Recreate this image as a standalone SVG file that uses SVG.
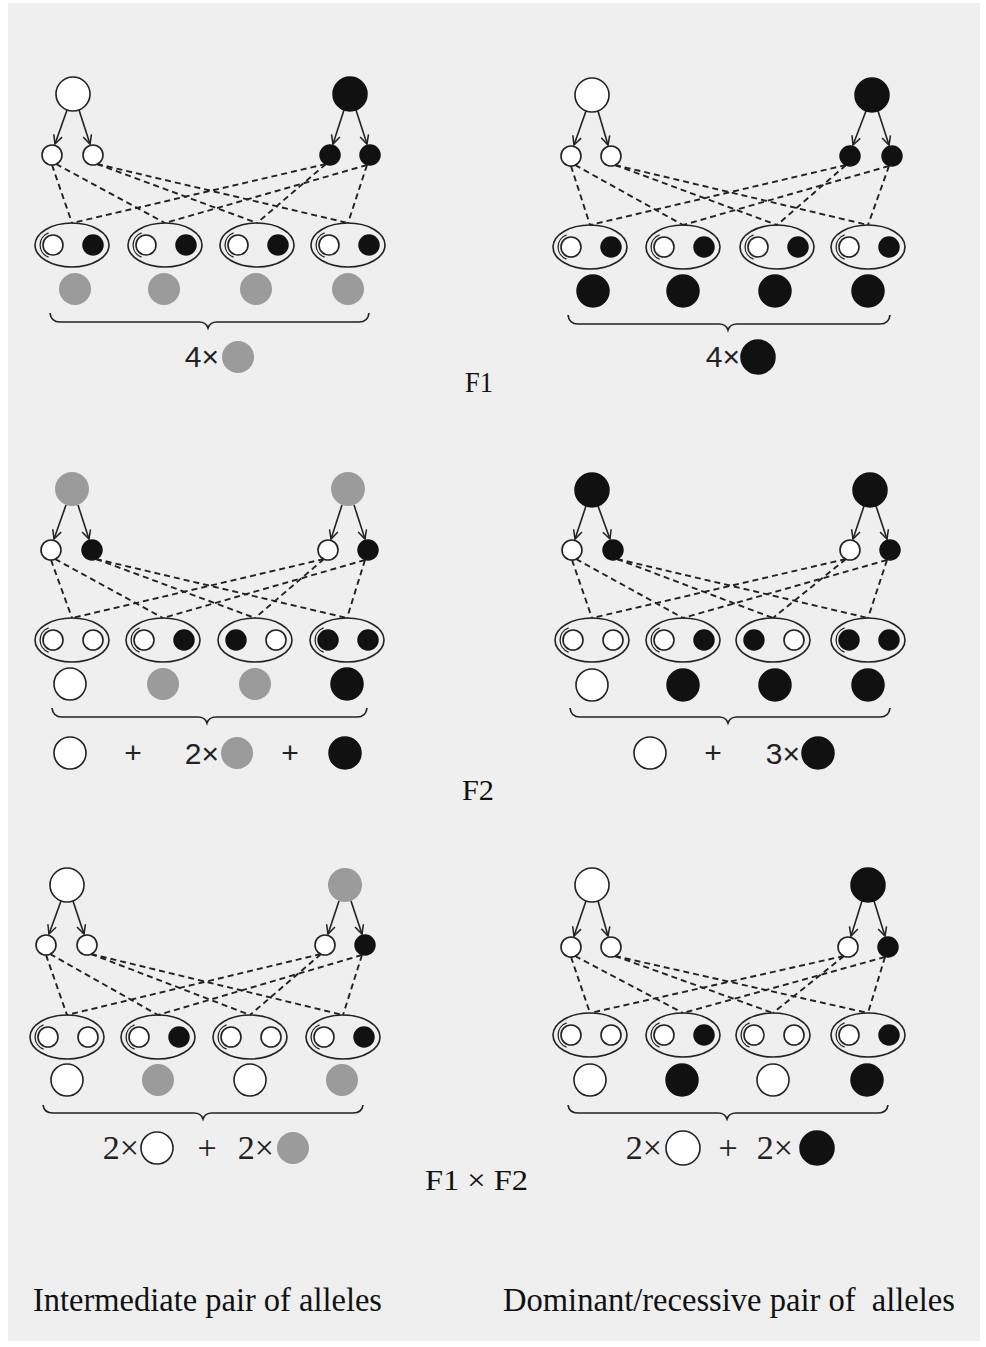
<svg xmlns="http://www.w3.org/2000/svg" width="986" height="1347" viewBox="0 0 986 1347">
<style>
.w{fill:#fff;stroke:#222;stroke-width:1.6}
.b{fill:#111;stroke:#111;stroke-width:1.5}
.g{fill:#9b9b9b;stroke:none}
.e{fill:none;stroke:#222;stroke-width:1.6}
.arc{fill:none;stroke:#222;stroke-width:1.3}
.ar{stroke:#222;stroke-width:1.6;fill:none;marker-end:url(#arr)}
.d{stroke:#222;stroke-width:1.9;stroke-dasharray:6 4;fill:none}
.br{fill:none;stroke:#222;stroke-width:1.7}
.ts{font-family:"Liberation Sans",Arial,sans-serif;font-size:30px;fill:#222}
.tr{font-family:"Liberation Serif","Times New Roman",serif;font-size:34px;fill:#222}
.lab{font-family:"Liberation Serif","Times New Roman",serif;font-size:30px;fill:#111}
.big{font-family:"Liberation Serif","Times New Roman",serif;font-size:34px;fill:#111;white-space:pre}
</style>
<defs>
<marker id="arr" viewBox="0 0 10 10" refX="9" refY="5" markerWidth="11" markerHeight="11" markerUnits="userSpaceOnUse" orient="auto">
<path d="M1,1 L9,5 L1,9" fill="none" stroke="#222" stroke-width="1.4"/>
</marker>
</defs>
<rect x="0" y="0" width="986" height="1347" fill="#fff"/>
<rect x="8" y="3" width="972" height="1338" fill="#efefef"/>

<g id="connectors">
<!-- Panel A -->
<line class="ar" x1="67" y1="110" x2="55" y2="144"/>
<line class="ar" x1="79" y1="110" x2="90" y2="144"/>
<line class="ar" x1="344" y1="110" x2="333" y2="144"/>
<line class="ar" x1="356" y1="110" x2="367" y2="144"/>
<line class="d" x1="52" y1="165" x2="72" y2="223"/>
<line class="d" x1="56" y1="164" x2="165" y2="223"/>
<line class="d" x1="97" y1="164" x2="257" y2="223"/>
<line class="d" x1="97" y1="164" x2="348" y2="223"/>
<line class="d" x1="326" y1="164" x2="72" y2="223"/>
<line class="d" x1="326" y1="164" x2="257" y2="223"/>
<line class="d" x1="367" y1="165" x2="165" y2="223"/>
<line class="d" x1="367" y1="165" x2="348" y2="223"/>
<!-- Panel B -->
<line class="ar" x1="586" y1="111" x2="574" y2="145"/>
<line class="ar" x1="598" y1="111" x2="608" y2="145"/>
<line class="ar" x1="866" y1="111" x2="853" y2="145"/>
<line class="ar" x1="878" y1="111" x2="889" y2="145"/>
<line class="d" x1="571" y1="166" x2="590" y2="225"/>
<line class="d" x1="575" y1="165" x2="683" y2="225"/>
<line class="d" x1="615" y1="165" x2="777" y2="225"/>
<line class="d" x1="615" y1="165" x2="868" y2="225"/>
<line class="d" x1="846" y1="165" x2="590" y2="225"/>
<line class="d" x1="846" y1="165" x2="777" y2="225"/>
<line class="d" x1="889" y1="166" x2="683" y2="225"/>
<line class="d" x1="889" y1="166" x2="868" y2="225"/>
<!-- Panel C -->
<line class="ar" x1="66" y1="505" x2="54" y2="539"/>
<line class="ar" x1="78" y1="505" x2="89" y2="539"/>
<line class="ar" x1="342" y1="505" x2="331" y2="539"/>
<line class="ar" x1="354" y1="505" x2="365" y2="539"/>
<line class="d" x1="51" y1="560" x2="72" y2="618"/>
<line class="d" x1="55" y1="559" x2="163" y2="618"/>
<line class="d" x1="96" y1="559" x2="255" y2="618"/>
<line class="d" x1="96" y1="559" x2="347" y2="618"/>
<line class="d" x1="324" y1="559" x2="72" y2="618"/>
<line class="d" x1="324" y1="559" x2="255" y2="618"/>
<line class="d" x1="365" y1="560" x2="163" y2="618"/>
<line class="d" x1="365" y1="560" x2="347" y2="618"/>
<!-- Panel D -->
<line class="ar" x1="586" y1="506" x2="575" y2="539"/>
<line class="ar" x1="598" y1="506" x2="610" y2="539"/>
<line class="ar" x1="864" y1="506" x2="853" y2="539"/>
<line class="ar" x1="876" y1="506" x2="887" y2="539"/>
<line class="d" x1="572" y1="560" x2="592" y2="618"/>
<line class="d" x1="576" y1="559" x2="683" y2="618"/>
<line class="d" x1="617" y1="559" x2="773" y2="618"/>
<line class="d" x1="617" y1="559" x2="868" y2="618"/>
<line class="d" x1="846" y1="559" x2="592" y2="618"/>
<line class="d" x1="846" y1="559" x2="773" y2="618"/>
<line class="d" x1="887" y1="560" x2="683" y2="618"/>
<line class="d" x1="887" y1="560" x2="868" y2="618"/>
<!-- Panel E -->
<line class="ar" x1="61" y1="901" x2="49" y2="934"/>
<line class="ar" x1="73" y1="901" x2="84" y2="934"/>
<line class="ar" x1="339" y1="901" x2="328" y2="934"/>
<line class="ar" x1="351" y1="901" x2="362" y2="934"/>
<line class="d" x1="46" y1="955" x2="67" y2="1015"/>
<line class="d" x1="50" y1="954" x2="158" y2="1015"/>
<line class="d" x1="91" y1="954" x2="250" y2="1015"/>
<line class="d" x1="91" y1="954" x2="343" y2="1015"/>
<line class="d" x1="321" y1="954" x2="67" y2="1015"/>
<line class="d" x1="321" y1="954" x2="250" y2="1015"/>
<line class="d" x1="362" y1="955" x2="158" y2="1015"/>
<line class="d" x1="362" y1="955" x2="343" y2="1015"/>
<!-- Panel F -->
<line class="ar" x1="586" y1="901" x2="574" y2="936"/>
<line class="ar" x1="598" y1="901" x2="608" y2="936"/>
<line class="ar" x1="862" y1="901" x2="851" y2="936"/>
<line class="ar" x1="874" y1="901" x2="885" y2="936"/>
<line class="d" x1="571" y1="957" x2="590" y2="1013"/>
<line class="d" x1="575" y1="956" x2="683" y2="1013"/>
<line class="d" x1="615" y1="956" x2="773" y2="1013"/>
<line class="d" x1="615" y1="956" x2="868" y2="1013"/>
<line class="d" x1="844" y1="956" x2="590" y2="1013"/>
<line class="d" x1="844" y1="956" x2="773" y2="1013"/>
<line class="d" x1="885" y1="957" x2="683" y2="1013"/>
<line class="d" x1="885" y1="957" x2="868" y2="1013"/>
</g>

<!-- ============ Panel A ============ -->
<g id="A-parent1"><circle class="w" cx="73" cy="94" r="17"/></g>
<g id="A-parent2"><circle class="b" cx="350" cy="94" r="17"/></g>
<g id="A-gamete1"><circle class="w" cx="52" cy="155" r="10"/></g>
<g id="A-gamete2"><circle class="w" cx="93" cy="155" r="10"/></g>
<g id="A-gamete3"><circle class="b" cx="330" cy="155" r="10"/></g>
<g id="A-gamete4"><circle class="b" cx="370" cy="155" r="10"/></g>
<g id="A-pair1"><ellipse class="e" cx="72" cy="245" rx="37" ry="22"/><path class="arc" d="M48.6,232.8 A13,13 0 0 0 48.6,257.2"/><circle class="w" cx="53" cy="245" r="10"/><circle class="b" cx="93" cy="245" r="10"/></g>
<g id="A-pair2"><ellipse class="e" cx="165" cy="245" rx="37" ry="22"/><path class="arc" d="M141.6,232.8 A13,13 0 0 0 141.6,257.2"/><circle class="w" cx="146" cy="245" r="10"/><circle class="b" cx="186" cy="245" r="10"/></g>
<g id="A-pair3"><ellipse class="e" cx="257" cy="245" rx="37" ry="22"/><path class="arc" d="M233.6,232.8 A13,13 0 0 0 233.6,257.2"/><circle class="w" cx="238" cy="245" r="10"/><circle class="b" cx="278" cy="245" r="10"/></g>
<g id="A-pair4"><ellipse class="e" cx="348" cy="245" rx="37" ry="22"/><path class="arc" d="M324.6,232.8 A13,13 0 0 0 324.6,257.2"/><circle class="w" cx="329" cy="245" r="10"/><circle class="b" cx="369" cy="245" r="10"/></g>
<g id="A-pheno"><circle class="g" cx="75" cy="289" r="16"/><circle class="g" cx="164" cy="289" r="16"/><circle class="g" cx="256" cy="289" r="16"/><circle class="g" cx="348" cy="289" r="16"/></g>
<g id="A-brace"><path class="br" d="M50,313 Q51,322 60,322 L199,322 Q206,322 208,328 Q210,322 217,322 L359,322 Q368,322 369,313"/></g>
<g id="A-result"><text class="ts" x="219" y="367" text-anchor="end">4×</text><circle class="g" cx="238" cy="357" r="16"/></g>

<!-- ============ Panel B ============ -->
<g id="B-parent1"><circle class="w" cx="592" cy="95" r="17"/></g>
<g id="B-parent2"><circle class="b" cx="872" cy="95" r="17"/></g>
<g id="B-gamete1"><circle class="w" cx="571" cy="156" r="10"/></g>
<g id="B-gamete2"><circle class="w" cx="611" cy="156" r="10"/></g>
<g id="B-gamete3"><circle class="b" cx="850" cy="156" r="10"/></g>
<g id="B-gamete4"><circle class="b" cx="892" cy="156" r="10"/></g>
<g id="B-pair1"><ellipse class="e" cx="590" cy="247" rx="37" ry="22"/><path class="arc" d="M566.6,234.8 A13,13 0 0 0 566.6,259.2"/><circle class="w" cx="571" cy="247" r="10"/><circle class="b" cx="611" cy="247" r="10"/></g>
<g id="B-pair2"><ellipse class="e" cx="683" cy="247" rx="37" ry="22"/><path class="arc" d="M659.6,234.8 A13,13 0 0 0 659.6,259.2"/><circle class="w" cx="664" cy="247" r="10"/><circle class="b" cx="704" cy="247" r="10"/></g>
<g id="B-pair3"><ellipse class="e" cx="777" cy="247" rx="37" ry="22"/><path class="arc" d="M753.6,234.8 A13,13 0 0 0 753.6,259.2"/><circle class="w" cx="758" cy="247" r="10"/><circle class="b" cx="798" cy="247" r="10"/></g>
<g id="B-pair4"><ellipse class="e" cx="868" cy="247" rx="37" ry="22"/><path class="arc" d="M844.6,234.8 A13,13 0 0 0 844.6,259.2"/><circle class="w" cx="849" cy="247" r="10"/><circle class="b" cx="889" cy="247" r="10"/></g>
<g id="B-pheno"><circle class="b" cx="593" cy="291" r="16"/><circle class="b" cx="683" cy="291" r="16"/><circle class="b" cx="775" cy="291" r="16"/><circle class="b" cx="868" cy="291" r="16"/></g>
<g id="B-brace"><path class="br" d="M568,315 Q569,324 578,324 L719,324 Q726,324 728,330 Q730,324 737,324 L880,324 Q889,324 890,315"/></g>
<g id="B-result"><text class="ts" x="740" y="367" text-anchor="end">4×</text><circle class="b" cx="758" cy="357" r="17"/></g>

<!-- ============ Panel C ============ -->
<g id="C-parent1"><circle class="g" cx="72" cy="489" r="17"/></g>
<g id="C-parent2"><circle class="g" cx="348" cy="489" r="17"/></g>
<g id="C-gamete1"><circle class="w" cx="51" cy="550" r="10"/></g>
<g id="C-gamete2"><circle class="b" cx="92" cy="550" r="10"/></g>
<g id="C-gamete3"><circle class="w" cx="328" cy="550" r="10"/></g>
<g id="C-gamete4"><circle class="b" cx="368" cy="550" r="10"/></g>
<g id="C-pair1"><ellipse class="e" cx="72" cy="640" rx="37" ry="22"/><path class="arc" d="M48.6,627.8 A13,13 0 0 0 48.6,652.2"/><circle class="w" cx="53" cy="640" r="10"/><circle class="w" cx="93" cy="640" r="10"/></g>
<g id="C-pair2"><ellipse class="e" cx="163" cy="640" rx="37" ry="22"/><path class="arc" d="M139.6,627.8 A13,13 0 0 0 139.6,652.2"/><circle class="w" cx="144" cy="640" r="10"/><circle class="b" cx="184" cy="640" r="10"/></g>
<g id="C-pair3"><ellipse class="e" cx="255" cy="640" rx="37" ry="22"/><circle class="b" cx="236" cy="640" r="10"/><circle class="w" cx="276" cy="640" r="10"/></g>
<g id="C-pair4"><ellipse class="e" cx="347" cy="640" rx="37" ry="22"/><path class="arc" d="M323.6,627.8 A13,13 0 0 0 323.6,652.2"/><circle class="b" cx="328" cy="640" r="10"/><circle class="b" cx="368" cy="640" r="10"/></g>
<g id="C-pheno"><circle class="w" cx="70" cy="684" r="16"/><circle class="g" cx="163" cy="684" r="16"/><circle class="g" cx="255" cy="684" r="16"/><circle class="b" cx="347" cy="684" r="16"/></g>
<g id="C-brace"><path class="br" d="M52,708 Q53,717 62,717 L198,717 Q205,717 207,723 Q209,717 216,717 L357,717 Q366,717 367,708"/></g>
<g id="C-result"><circle class="w" cx="70" cy="753" r="16"/><text class="ts" x="133" y="763" text-anchor="middle">+</text><text class="ts" x="219" y="764" text-anchor="end">2×</text><circle class="g" cx="237" cy="753" r="16"/><text class="ts" x="290" y="763" text-anchor="middle">+</text><circle class="b" cx="345" cy="753" r="16"/></g>

<!-- ============ Panel D ============ -->
<g id="D-parent1"><circle class="b" cx="592" cy="490" r="17"/></g>
<g id="D-parent2"><circle class="b" cx="870" cy="490" r="17"/></g>
<g id="D-gamete1"><circle class="w" cx="572" cy="550" r="10"/></g>
<g id="D-gamete2"><circle class="b" cx="613" cy="550" r="10"/></g>
<g id="D-gamete3"><circle class="w" cx="850" cy="550" r="10"/></g>
<g id="D-gamete4"><circle class="b" cx="890" cy="550" r="10"/></g>
<g id="D-pair1"><ellipse class="e" cx="592" cy="640" rx="37" ry="22"/><path class="arc" d="M568.6,627.8 A13,13 0 0 0 568.6,652.2"/><circle class="w" cx="573" cy="640" r="10"/><circle class="w" cx="613" cy="640" r="10"/></g>
<g id="D-pair2"><ellipse class="e" cx="683" cy="640" rx="37" ry="22"/><path class="arc" d="M659.6,627.8 A13,13 0 0 0 659.6,652.2"/><circle class="w" cx="664" cy="640" r="10"/><circle class="b" cx="704" cy="640" r="10"/></g>
<g id="D-pair3"><ellipse class="e" cx="773" cy="640" rx="37" ry="22"/><circle class="b" cx="754" cy="640" r="10"/><circle class="w" cx="794" cy="640" r="10"/></g>
<g id="D-pair4"><ellipse class="e" cx="868" cy="640" rx="37" ry="22"/><path class="arc" d="M844.6,627.8 A13,13 0 0 0 844.6,652.2"/><circle class="b" cx="849" cy="640" r="10"/><circle class="b" cx="889" cy="640" r="10"/></g>
<g id="D-pheno"><circle class="w" cx="592" cy="685" r="16"/><circle class="b" cx="683" cy="685" r="16"/><circle class="b" cx="775" cy="685" r="16"/><circle class="b" cx="868" cy="685" r="16"/></g>
<g id="D-brace"><path class="br" d="M570,708 Q571,717 580,717 L719,717 Q726,717 728,723 Q730,717 737,717 L880,717 Q889,717 890,708"/></g>
<g id="D-result"><circle class="w" cx="650" cy="753" r="16"/><text class="ts" x="713" y="763" text-anchor="middle">+</text><text class="ts" x="800" y="764" text-anchor="end">3×</text><circle class="b" cx="818" cy="753" r="16"/></g>

<!-- ============ Panel E ============ -->
<g id="E-parent1"><circle class="w" cx="67" cy="885" r="17"/></g>
<g id="E-parent2"><circle class="g" cx="345" cy="885" r="17"/></g>
<g id="E-gamete1"><circle class="w" cx="46" cy="945" r="10"/></g>
<g id="E-gamete2"><circle class="w" cx="87" cy="945" r="10"/></g>
<g id="E-gamete3"><circle class="w" cx="325" cy="945" r="10"/></g>
<g id="E-gamete4"><circle class="b" cx="365" cy="945" r="10"/></g>
<g id="E-pair1"><ellipse class="e" cx="67" cy="1037" rx="37" ry="22"/><path class="arc" d="M43.6,1024.8 A13,13 0 0 0 43.6,1049.2"/><circle class="w" cx="48" cy="1037" r="10"/><circle class="w" cx="88" cy="1037" r="10"/></g>
<g id="E-pair2"><ellipse class="e" cx="158" cy="1037" rx="37" ry="22"/><path class="arc" d="M134.6,1024.8 A13,13 0 0 0 134.6,1049.2"/><circle class="w" cx="139" cy="1037" r="10"/><circle class="b" cx="179" cy="1037" r="10"/></g>
<g id="E-pair3"><ellipse class="e" cx="250" cy="1037" rx="37" ry="22"/><path class="arc" d="M226.6,1024.8 A13,13 0 0 0 226.6,1049.2"/><circle class="w" cx="231" cy="1037" r="10"/><circle class="w" cx="271" cy="1037" r="10"/></g>
<g id="E-pair4"><ellipse class="e" cx="343" cy="1037" rx="37" ry="22"/><path class="arc" d="M319.6,1024.8 A13,13 0 0 0 319.6,1049.2"/><circle class="w" cx="324" cy="1037" r="10"/><circle class="b" cx="364" cy="1037" r="10"/></g>
<g id="E-pheno"><circle class="w" cx="67" cy="1080" r="16"/><circle class="g" cx="158" cy="1080" r="16"/><circle class="w" cx="250" cy="1080" r="16"/><circle class="g" cx="342" cy="1080" r="16"/></g>
<g id="E-brace"><path class="br" d="M43,1105 Q44,1113 53,1113 L194,1113 Q201,1113 203,1119 Q205,1113 212,1113 L353,1113 Q362,1113 363,1105"/></g>
<g id="E-result"><text class="tr" x="139" y="1159" text-anchor="end">2×</text><circle class="w" cx="157" cy="1148" r="16"/><text class="tr" x="207" y="1159" text-anchor="middle">+</text><text class="tr" x="274" y="1159" text-anchor="end">2×</text><circle class="g" cx="293" cy="1148" r="16"/></g>

<!-- ============ Panel F ============ -->
<g id="F-parent1"><circle class="w" cx="592" cy="885" r="17"/></g>
<g id="F-parent2"><circle class="b" cx="868" cy="885" r="17"/></g>
<g id="F-gamete1"><circle class="w" cx="571" cy="947" r="10"/></g>
<g id="F-gamete2"><circle class="w" cx="611" cy="947" r="10"/></g>
<g id="F-gamete3"><circle class="w" cx="848" cy="947" r="10"/></g>
<g id="F-gamete4"><circle class="b" cx="888" cy="947" r="10"/></g>
<g id="F-pair1"><ellipse class="e" cx="590" cy="1035" rx="37" ry="22"/><path class="arc" d="M566.6,1022.8 A13,13 0 0 0 566.6,1047.2"/><circle class="w" cx="571" cy="1035" r="10"/><circle class="w" cx="611" cy="1035" r="10"/></g>
<g id="F-pair2"><ellipse class="e" cx="683" cy="1035" rx="37" ry="22"/><path class="arc" d="M659.6,1022.8 A13,13 0 0 0 659.6,1047.2"/><circle class="w" cx="664" cy="1035" r="10"/><circle class="b" cx="704" cy="1035" r="10"/></g>
<g id="F-pair3"><ellipse class="e" cx="773" cy="1035" rx="37" ry="22"/><path class="arc" d="M749.6,1022.8 A13,13 0 0 0 749.6,1047.2"/><circle class="w" cx="754" cy="1035" r="10"/><circle class="w" cx="794" cy="1035" r="10"/></g>
<g id="F-pair4"><ellipse class="e" cx="868" cy="1035" rx="37" ry="22"/><path class="arc" d="M844.6,1022.8 A13,13 0 0 0 844.6,1047.2"/><circle class="w" cx="849" cy="1035" r="10"/><circle class="b" cx="889" cy="1035" r="10"/></g>
<g id="F-pheno"><circle class="w" cx="590" cy="1080" r="16"/><circle class="b" cx="682" cy="1080" r="16"/><circle class="w" cx="773" cy="1080" r="16"/><circle class="b" cx="867" cy="1080" r="16"/></g>
<g id="F-brace"><path class="br" d="M568,1105 Q569,1113 578,1113 L718,1113 Q725,1113 727,1119 Q729,1113 736,1113 L878,1113 Q887,1113 888,1105"/></g>
<g id="F-result"><text class="tr" x="662" y="1159" text-anchor="end">2×</text><circle class="w" cx="683" cy="1148" r="17"/><text class="tr" x="728" y="1159" text-anchor="middle">+</text><text class="tr" x="793" y="1159" text-anchor="end">2×</text><circle class="b" cx="817" cy="1148" r="17"/></g>

<!-- Labels -->
<g id="labels">
<text class="lab" x="465" y="392" textLength="28" lengthAdjust="spacingAndGlyphs">F1</text>
<text class="lab" x="462" y="800" textLength="32" lengthAdjust="spacingAndGlyphs">F2</text>
<text class="lab" x="425" y="1190" textLength="103" lengthAdjust="spacingAndGlyphs">F1 × F2</text>
<text class="big" x="33" y="1311" textLength="349" lengthAdjust="spacingAndGlyphs">Intermediate pair of alleles</text>
<text class="big" x="503" y="1311" textLength="452" lengthAdjust="spacingAndGlyphs">Dominant/recessive pair of  alleles</text>
</g>
</svg>
